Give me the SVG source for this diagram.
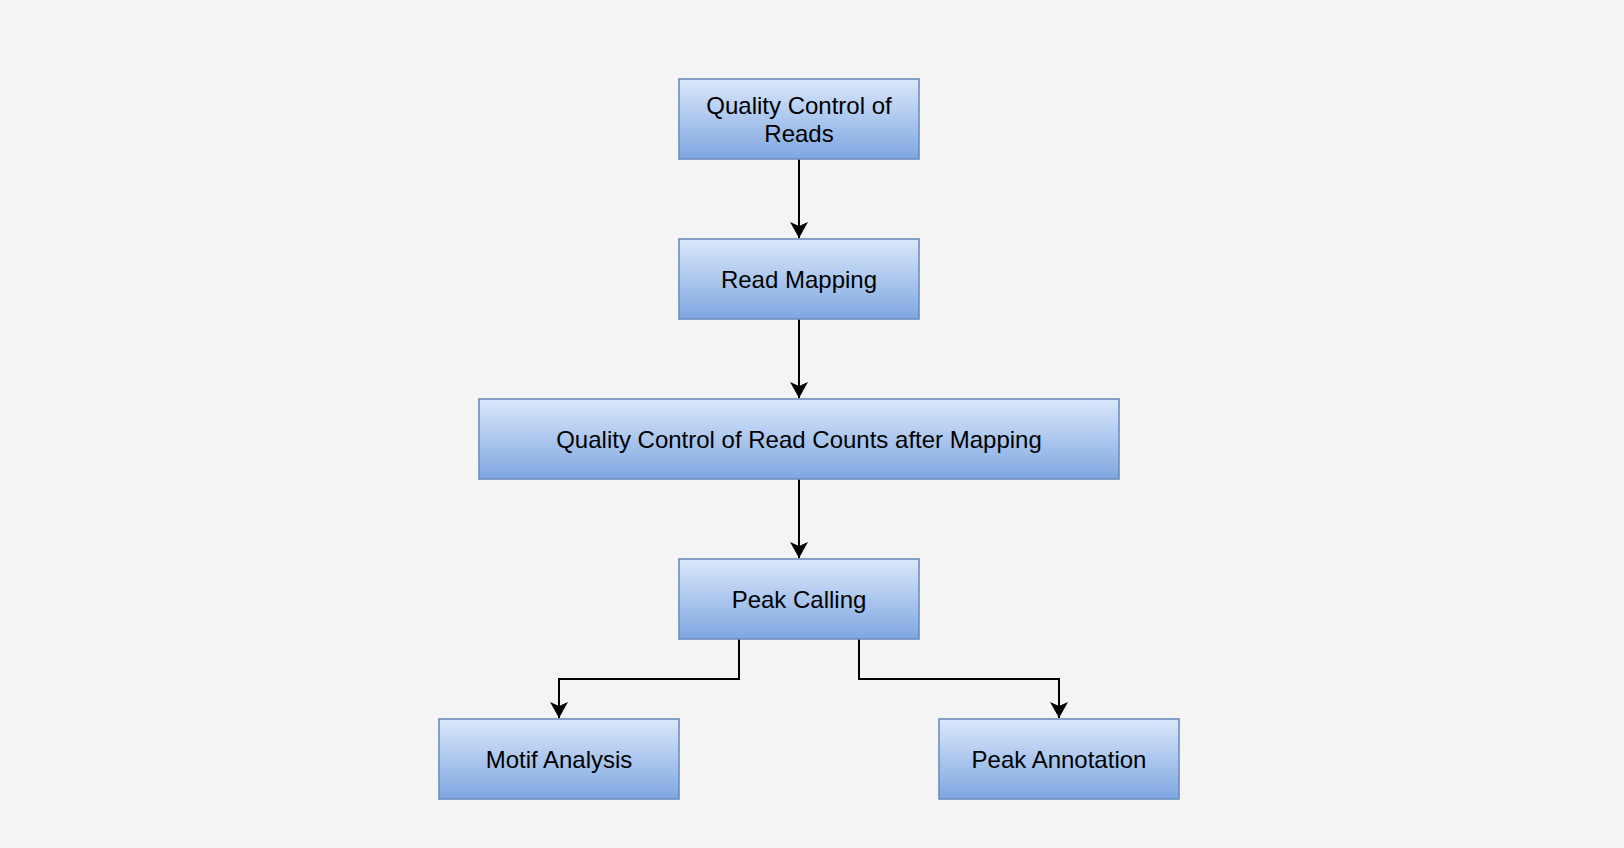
<svg xmlns="http://www.w3.org/2000/svg" width="1624" height="848" viewBox="0 0 1624 848">
<style>
.box{fill:url(#g);stroke:#6c8ebf;stroke-width:1.6}
.lbl{font-family:"Liberation Sans",Arial,sans-serif;font-size:24px;fill:#000;text-anchor:middle}
.edge{fill:none;stroke:#000;stroke-width:2;marker-end:url(#arr)}
</style>
<defs>
<linearGradient id="g" x1="0" y1="0" x2="0" y2="1">
<stop offset="0" stop-color="#dae8fc"/>
<stop offset="1" stop-color="#7ea6e0"/>
</linearGradient>
<marker id="arr" markerUnits="userSpaceOnUse" markerWidth="18" markerHeight="18" viewBox="0 0 16 18" refX="16" refY="9" orient="auto">
<path d="M0,0 L16,9 L0,18 L4,9 Z" fill="#000"/>
</marker>
</defs>
<rect width="1624" height="848" fill="#f4f4f4"/>
<g id="connectors">
<path class="edge" d="M799,159 V238"/>
<path class="edge" d="M799,319 V398"/>
<path class="edge" d="M799,479 V558"/>
<path class="edge" d="M739,639 V679 H559 V718"/>
<path class="edge" d="M859,639 V679 H1059 V718"/>
</g>
<g id="n1"><rect class="box" x="679" y="79" width="240" height="80"/><text class="lbl" x="799" y="113.5">Quality Control of</text><text class="lbl" x="799" y="141.5">Reads</text></g>
<g id="n2"><rect class="box" x="679" y="239" width="240" height="80"/><text class="lbl" x="799" y="287.5">Read Mapping</text></g>
<g id="n3"><rect class="box" x="479" y="399" width="640" height="80"/><text class="lbl" x="799" y="447.5">Quality Control of Read Counts after Mapping</text></g>
<g id="n4"><rect class="box" x="679" y="559" width="240" height="80"/><text class="lbl" x="799" y="607.5">Peak Calling</text></g>
<g id="n5"><rect class="box" x="439" y="719" width="240" height="80"/><text class="lbl" x="559" y="767.5">Motif Analysis</text></g>
<g id="n6"><rect class="box" x="939" y="719" width="240" height="80"/><text class="lbl" x="1059" y="767.5">Peak Annotation</text></g>
</svg>
